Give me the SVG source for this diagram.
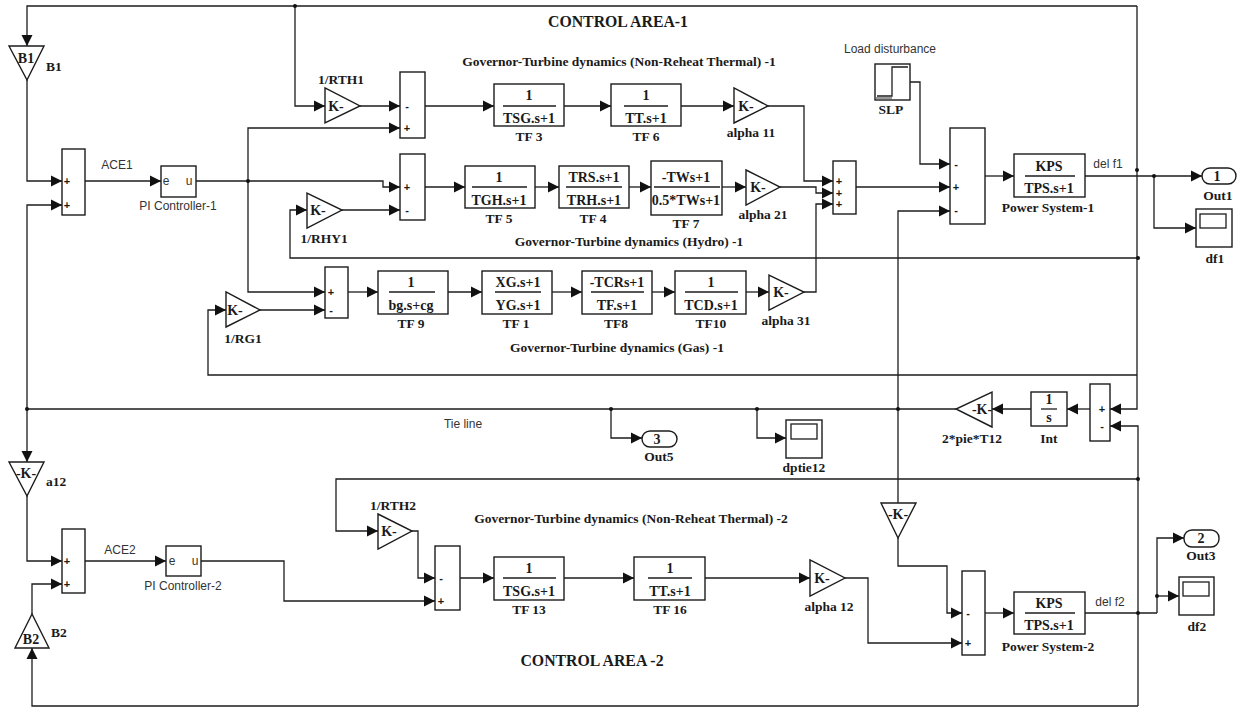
<svg xmlns="http://www.w3.org/2000/svg" width="1239" height="707" viewBox="0 0 1239 707">
<style>
.b{fill:#fff;stroke:#1c1c1c;stroke-width:1.4}
.f{fill:none;stroke:#1c1c1c;stroke-width:1.3}
.c{fill:none;stroke:#1c1c1c;stroke-width:1.3;marker-end:url(#a)}
.t{font-family:"Liberation Serif","Times New Roman",serif;font-weight:bold;font-size:14px;fill:#1a1a1a;text-anchor:middle}
.l{font-family:"Liberation Serif","Times New Roman",serif;font-weight:bold;font-size:13.5px;fill:#1a1a1a;text-anchor:middle}
.h{font-family:"Liberation Serif","Times New Roman",serif;font-weight:bold;font-size:13.5px;fill:#1a1a1a;text-anchor:middle}
.m{font-family:"Liberation Serif","Times New Roman",serif;font-weight:bold;font-size:15.8px;fill:#1a1a1a;text-anchor:middle}
.s{font-family:"Liberation Sans",Arial,sans-serif;font-size:12px;fill:#333;text-anchor:middle}
.g{font-family:"Liberation Sans",Arial,sans-serif;font-size:11px;font-weight:bold;fill:#1a1a1a;text-anchor:middle}
.d{fill:#111}
</style>
<defs>
<marker id="a" markerUnits="userSpaceOnUse" markerWidth="12" markerHeight="12" refX="11" refY="6" orient="auto"><path d="M0,0.5 L11,6 L0,11.5z" fill="#111"/></marker>
</defs>
<g id="connectors">
<path class="c" d="M1137,6 H27 V46"/>
<path class="c" d="M27,80 V181 H62"/>
<path class="c" d="M27,409 V205 H62"/>
<path class="c" d="M956,409 H27 V462"/>
<path class="c" d="M27,496 V561 H62"/>
<path class="c" d="M1137,6 V409 H1110"/>
<path class="c" d="M85,181 H161"/>
<path class="f" d="M196,181 H248"/>
<path class="c" d="M248,181 H383 V187 H400"/>
<path class="c" d="M248,181 V128 H400"/>
<path class="c" d="M248,181 V292 H325"/>
<path class="c" d="M295,6 V106 H325"/>
<path class="c" d="M360,106 H400"/>
<path class="c" d="M1137,258 H290 V210 H307"/>
<path class="c" d="M342,210 H400"/>
<path class="c" d="M1137,375 H208 V310 H226"/>
<path class="c" d="M260,310 H325"/>
<path class="c" d="M425,106 H494"/>
<path class="c" d="M564,106 H611"/>
<path class="c" d="M681,106 H734"/>
<path class="c" d="M768,106 H804 V181 H833"/>
<path class="c" d="M425,187 H465"/>
<path class="c" d="M535,187 H559"/>
<path class="c" d="M629,187 H651"/>
<path class="c" d="M722,187 H746"/>
<path class="c" d="M780,187 H816 V193 H833"/>
<path class="c" d="M804,292 H816 V204 H833"/>
<path class="c" d="M348,292 H378"/>
<path class="c" d="M448,292 H482"/>
<path class="c" d="M552,292 H582"/>
<path class="c" d="M652,292 H675"/>
<path class="c" d="M746,292 H769"/>
<path class="c" d="M856,187 H950"/>
<path class="c" d="M910,82 H920 V164 H950"/>
<path class="c" d="M898,503 V211 H950"/>
<path class="c" d="M985,176 H1014"/>
<path class="c" d="M1085,176 H1202"/>
<path class="c" d="M1154,176 V228 H1196"/>
<path class="c" d="M1138,706 V426 H1110"/>
<path class="c" d="M1090,409 H1067"/>
<path class="c" d="M1031,409 H992"/>
<path class="c" d="M611,409 V438 H642"/>
<path class="c" d="M757,409 V438 H786"/>
<path class="c" d="M1138,479 H336 V531 H378"/>
<path class="c" d="M412,531 H418 V578 H435"/>
<path class="c" d="M85,561 H166"/>
<path class="c" d="M201,561 H284 V601 H435"/>
<path class="c" d="M1138,706 H32 V648"/>
<path class="c" d="M32,614 V584 H62"/>
<path class="c" d="M460,578 H494"/>
<path class="c" d="M564,578 H634"/>
<path class="c" d="M705,578 H810"/>
<path class="c" d="M845,578 H868 V643 H962"/>
<path class="c" d="M898,538 V566 H947 V613 H962"/>
<path class="c" d="M985,613 H1014"/>
<path class="f" d="M1085,613 H1157"/>
<path class="c" d="M1157,613 V538 H1184"/>
<path class="c" d="M1157,596 H1179"/>
<circle class="d" cx="295" cy="6" r="2"/>
<circle class="d" cx="248" cy="181" r="2"/>
<circle class="d" cx="1137" cy="170" r="2"/>
<circle class="d" cx="1154" cy="176" r="2"/>
<circle class="d" cx="1138" cy="258" r="2"/>
<circle class="d" cx="27" cy="409" r="2"/>
<circle class="d" cx="611" cy="409" r="2"/>
<circle class="d" cx="757" cy="409" r="2"/>
<circle class="d" cx="898" cy="409" r="2"/>
<circle class="d" cx="1138" cy="479" r="2"/>
<circle class="d" cx="1138" cy="613" r="2"/>
<circle class="d" cx="1157" cy="596" r="2"/>
</g>
<g id="titles">
<text class="m" x="618" y="27">CONTROL AREA-1</text>
<text class="m" x="592" y="666">CONTROL AREA -2</text>
<text class="h" x="619" y="66">Governor-Turbine dynamics (Non-Reheat Thermal) -1</text>
<text class="h" x="629" y="246">Governor-Turbine dynamics (Hydro) -1</text>
<text class="h" x="617" y="352">Governor-Turbine dynamics (Gas) -1</text>
<text class="h" x="631" y="523">Governor-Turbine dynamics (Non-Reheat Thermal) -2</text>
<text class="s" x="890" y="53">Load disturbance</text>
<text class="s" x="117" y="169">ACE1</text>
<text class="s" x="120" y="554">ACE2</text>
<text class="s" x="463" y="428">Tie line</text>
<text class="s" x="1108" y="168">del f1</text>
<text class="s" x="1110" y="606">del f2</text>
</g>
<g id="B1"><path class="b" d="M9,46 H44 L27,80z"/><text class="t" x="26" y="63">B1</text><text class="l" x="54" y="71">B1</text></g>
<g id="a12"><path class="b" d="M9,462 H44 L27,496z"/><text class="t" x="26" y="478">-K-</text><text class="l" x="56" y="486">a12</text></g>
<g id="B2"><path class="b" d="M15,648 H49 L32,614z"/><text class="t" x="31" y="644">B2</text><text class="l" x="59" y="637">B2</text></g>
<g id="Sum1"><rect class="b" x="62" y="149" width="23" height="66"/><text class="g" x="67" y="185">+</text><text class="g" x="67" y="209">+</text></g>
<g id="Sum2"><rect class="b" x="62" y="529" width="23" height="64"/><text class="g" x="67" y="565">+</text><text class="g" x="67" y="588">+</text></g>
<g id="PI1"><rect class="b" x="161" y="166" width="35" height="31"/><text class="s" x="166" y="185">e</text><text class="s" x="189" y="185">u</text><text class="s" x="178" y="210">PI Controller-1</text></g>
<g id="PI2"><rect class="b" x="166" y="546" width="35" height="30"/><text class="s" x="172" y="565">e</text><text class="s" x="195" y="565">u</text><text class="s" x="183" y="590">PI Controller-2</text></g>
<g id="RTH1"><path class="b" d="M325,88 V123 L360,106z"/><text class="t" x="336" y="111">K-</text><text class="l" x="341" y="84">1/RTH1</text></g>
<g id="RHY1"><path class="b" d="M307,193 V228 L342,210z"/><text class="t" x="318" y="215">K-</text><text class="l" x="324" y="243">1/RHY1</text></g>
<g id="RG1"><path class="b" d="M226,292 V327 L260,310z"/><text class="t" x="235" y="315">K-</text><text class="l" x="243" y="343">1/RG1</text></g>
<g id="RTH2"><path class="b" d="M378,514 V549 L412,531z"/><text class="t" x="389" y="536">K-</text><text class="l" x="393" y="510">1/RTH2</text></g>
<g id="SumT"><rect class="b" x="400" y="72" width="25" height="66"/><text class="g" x="407" y="110">-</text><text class="g" x="407" y="132">+</text></g>
<g id="SumH"><rect class="b" x="400" y="154" width="25" height="66"/><text class="g" x="407" y="191">+</text><text class="g" x="407" y="214">-</text></g>
<g id="SumG"><rect class="b" x="325" y="267" width="23" height="51"/><text class="g" x="331" y="296">+</text><text class="g" x="331" y="314">-</text></g>
<g id="SumR"><rect class="b" x="435" y="546" width="25" height="64"/><text class="g" x="441" y="582">-</text><text class="g" x="441" y="605">+</text></g>
<g id="TF3"><rect class="b" x="494" y="84" width="70" height="42"/><path class="f" d="M503,106 H556"/><text class="t" x="529" y="100">1</text><text class="t" x="529" y="123">TSG.s+1</text><text class="l" x="529" y="141">TF 3</text></g>
<g id="TF6"><rect class="b" x="611" y="84" width="70" height="42"/><path class="f" d="M624,106 H668"/><text class="t" x="646" y="100">1</text><text class="t" x="646" y="123">TT.s+1</text><text class="l" x="646" y="141">TF 6</text></g>
<g id="TF5"><rect class="b" x="465" y="166" width="70" height="42"/><path class="f" d="M472,187 H527"/><text class="t" x="499" y="182">1</text><text class="t" x="499" y="205">TGH.s+1</text><text class="l" x="499" y="223">TF 5</text></g>
<g id="TF4"><rect class="b" x="559" y="166" width="70" height="42"/><path class="f" d="M566,187 H622"/><text class="t" x="594" y="182">TRS.s+1</text><text class="t" x="594" y="205">TRH.s+1</text><text class="l" x="593" y="223">TF 4</text></g>
<g id="TF7"><rect class="b" x="651" y="161" width="71" height="54"/><path class="f" d="M654,187 H720"/><text class="t" x="686" y="182">-TWs+1</text><text class="t" x="686" y="205">0.5*TWs+1</text><text class="l" x="686" y="228">TF 7</text></g>
<g id="TF9"><rect class="b" x="378" y="271" width="70" height="43"/><path class="f" d="M389,292 H435"/><text class="t" x="411" y="287">1</text><text class="t" x="411" y="310">bg.s+cg</text><text class="l" x="411" y="328">TF 9</text></g>
<g id="TF1"><rect class="b" x="482" y="271" width="70" height="43"/><path class="f" d="M495,292 H541"/><text class="t" x="518" y="287">XG.s+1</text><text class="t" x="518" y="310">YG.s+1</text><text class="l" x="516" y="328">TF 1</text></g>
<g id="TF8"><rect class="b" x="582" y="271" width="70" height="43"/><path class="f" d="M591,292 H644"/><text class="t" x="617" y="287">-TCRs+1</text><text class="t" x="617" y="310">TF.s+1</text><text class="l" x="616" y="328">TF8</text></g>
<g id="TF10"><rect class="b" x="675" y="271" width="71" height="43"/><path class="f" d="M685,292 H738"/><text class="t" x="711" y="287">1</text><text class="t" x="711" y="310">TCD.s+1</text><text class="l" x="711" y="328">TF10</text></g>
<g id="TF13"><rect class="b" x="494" y="557" width="70" height="43"/><path class="f" d="M503,578 H556"/><text class="t" x="529" y="573">1</text><text class="t" x="529" y="596">TSG.s+1</text><text class="l" x="529" y="614">TF 13</text></g>
<g id="TF16"><rect class="b" x="634" y="557" width="71" height="43"/><path class="f" d="M648,578 H692"/><text class="t" x="670" y="573">1</text><text class="t" x="670" y="596">TT.s+1</text><text class="l" x="670" y="614">TF 16</text></g>
<g id="alpha11"><path class="b" d="M734,88 V123 L768,106z"/><text class="t" x="746" y="111">K-</text><text class="l" x="751" y="137">alpha 11</text></g>
<g id="alpha21"><path class="b" d="M746,170 V205 L780,187z"/><text class="t" x="758" y="192">K-</text><text class="l" x="763" y="219">alpha 21</text></g>
<g id="alpha31"><path class="b" d="M769,275 V310 L804,292z"/><text class="t" x="781" y="297">K-</text><text class="l" x="786" y="325">alpha 31</text></g>
<g id="alpha12"><path class="b" d="M810,560 V596 L845,578z"/><text class="t" x="822" y="583">K-</text><text class="l" x="829" y="611">alpha 12</text></g>
<g id="SumM"><rect class="b" x="833" y="161" width="23" height="53"/><text class="g" x="839" y="185">+</text><text class="g" x="839" y="197">+</text><text class="g" x="839" y="208">+</text></g>
<g id="SLP"><rect class="b" x="875" y="64" width="35" height="36"/><path class="f" d="M877,96 H892 V67 H908"/><path d="M876,97 H892 V99 H876z" fill="#999"/><text class="l" x="891" y="114">SLP</text></g>
<g id="SumA"><rect class="b" x="950" y="128" width="35" height="96"/><text class="g" x="956" y="168">-</text><text class="g" x="956" y="191">+</text><text class="g" x="956" y="214">-</text></g>
<g id="PS1"><rect class="b" x="1014" y="154" width="71" height="43"/><path class="f" d="M1025,176 H1075"/><text class="t" x="1049" y="171">KPS</text><text class="t" x="1049" y="193">TPS.s+1</text><text class="l" x="1048" y="212">Power System-1</text></g>
<g id="Out1"><rect class="b" x="1202" y="168" width="34" height="16" rx="8"/><text class="t" x="1217" y="181">1</text><text class="l" x="1218" y="200">Out1</text></g>
<g id="df1"><rect class="b" x="1196" y="209" width="36" height="38"/><rect class="f" x="1200" y="214" width="26" height="14"/><text class="l" x="1215" y="263">df1</text></g>
<g id="Sum12"><rect class="b" x="1090" y="384" width="20" height="57"/><text class="g" x="1102" y="413">+</text><text class="g" x="1102" y="430">-</text></g>
<g id="Int"><rect class="b" x="1031" y="392" width="36" height="34"/><path class="f" d="M1041,409 H1057"/><text class="t" x="1049" y="404">1</text><text class="t" x="1049" y="422">s</text><text class="l" x="1049" y="443">Int</text></g>
<g id="T12"><path class="b" d="M992,392 V427 L956,409z"/><text class="t" x="982" y="414">-K-</text><text class="l" x="972" y="443">2*pie*T12</text></g>
<g id="Out5"><rect class="b" x="642" y="431" width="35" height="16" rx="8"/><text class="t" x="657" y="444">3</text><text class="l" x="659" y="461">Out5</text></g>
<g id="dptie12"><rect class="b" x="786" y="420" width="36" height="38"/><rect class="f" x="791" y="424" width="26" height="15"/><text class="l" x="804" y="472">dptie12</text></g>
<g id="Gain2"><path class="b" d="M881,503 H916 L898,538z"/><text class="t" x="898" y="519">-K-</text></g>
<g id="SumB"><rect class="b" x="962" y="571" width="23" height="84"/><text class="g" x="968" y="617">-</text><text class="g" x="968" y="647">+</text></g>
<g id="PS2"><rect class="b" x="1014" y="592" width="71" height="42"/><path class="f" d="M1025,613 H1075"/><text class="t" x="1049" y="608">KPS</text><text class="t" x="1049" y="630">TPS.s+1</text><text class="l" x="1048" y="651">Power System-2</text></g>
<g id="Out3"><rect class="b" x="1184" y="530" width="35" height="17" rx="8"/><text class="t" x="1201" y="543">2</text><text class="l" x="1201" y="560">Out3</text></g>
<g id="df2"><rect class="b" x="1179" y="577" width="35" height="38"/><rect class="f" x="1183" y="582" width="26" height="14"/><text class="l" x="1197" y="631">df2</text></g>
</svg>
